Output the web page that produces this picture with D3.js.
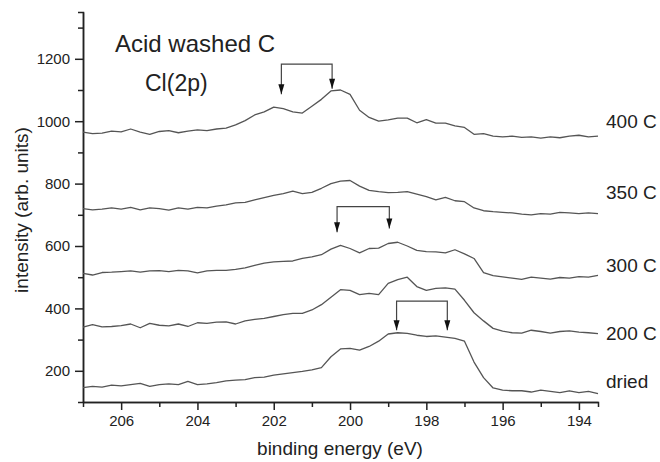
<!DOCTYPE html>
<html>
<head>
<meta charset="utf-8">
<script src="https://cdn.jsdelivr.net/npm/d3@7"></script>
<style>
  body { margin: 0; background: #fff; }
  svg { font-family: "Liberation Sans", Arial, sans-serif; display: block; }
  .axis path, .axis line { stroke: #222; stroke-width: 1.5; }
  .axis text { font-size: 15px; fill: #222; }
</style>
</head>
<body>
<div id="chart"></div>
<script>
// binding energy grid (eV), 207 -> 193.5 in 0.25 steps
var energy = d3.range(0, 55).map(function(i) { return 207 - 0.25 * i })

var dried = [146,150,148,154,152,156,160,150,156,158,156,166,156,158,162,168,170,172,178,180,
             186,190,194,198,203,210,245,270,272,266,278,295,318,322,320,314,310,312,308,304,
             295,228,178,145,138,136,136,132,138,134,130,136,130,134,127]
var c200 = [340,348,341,342,345,350,338,352,346,344,350,342,354,352,356,357,350,360,365,368,
            374,380,384,384,395,412,436,460,458,444,448,444,480,492,500,470,458,464,466,462,
            426,386,360,336,327,322,321,330,326,321,326,328,324,322,319]
var c300 = [512,507,515,516,518,520,516,520,521,518,522,520,514,520,522,522,525,530,538,545,
            549,551,552,560,565,572,590,602,592,578,592,593,608,612,600,586,582,581,578,588,
            575,560,515,505,501,497,493,500,497,494,499,497,502,500,506]
var c350 = [720,716,718,722,718,724,716,722,720,715,722,718,724,722,728,732,738,740,748,755,
            762,768,776,768,772,785,800,808,810,792,778,774,771,772,774,766,758,748,756,745,
            742,722,713,710,708,706,702,700,704,702,708,706,704,706,704]
var c400 = [965,960,962,968,966,975,965,958,967,970,963,968,972,970,975,978,988,1002,1020,1030,
            1045,1040,1030,1026,1048,1070,1097,1100,1086,1035,1012,1000,1004,1010,1010,995,1005,994,994,985,
            980,958,960,952,950,952,948,950,946,950,947,952,955,950,952]

var seriesNames = ["dried", "200 C", "300 C", "350 C", "400 C"]
var seriesValues = [dried, c200, c300, c350, c400]
// where each curve's name sits (intensity units)
var labelLevels = [144, 298, 517, 750, 978]

// arrow brackets: [left eV, right eV], bracket top, tip heights
var arrowEnergies = [[201.8, 200.47], [200.34, 198.97], [198.78, 197.45]]
var arrowTop = [1183, 726, 423]
var arrowTips = [[1086, 1104], [644, 656], [330, 330]]

var yMajor = [200, 400, 600, 800, 1000, 1200]
var yMinor = [300, 500, 700, 900, 1100, 1300]
var xMajor = [206, 204, 202, 200, 198, 196, 194]
var xMinor = [205, 203, 201, 199, 197, 195]

var W = 660, H = 462

var svg = d3.select("#chart").append("svg")
	.attr("width", W)
	.attr("height", H)

var x = d3.scaleLinear().domain([207, 193.5]).range([83, 598])
var y = d3.scaleLinear().domain([100, 1350]).range([402, 12])

// minor ticks first, then the major axes
svg.append("g")
	.attr("class", "axis")
	.attr("transform", "translate(0," + y(100) + ")")
	.call(d3.axisBottom(x).tickValues(xMinor).tickSize(5).tickFormat(""))
svg.append("g")
	.attr("class", "axis")
	.attr("transform", "translate(" + x(207) + ",0)")
	.call(d3.axisLeft(y).tickValues(yMinor).tickSize(5).tickFormat(""))

svg.append("g")
	.attr("class", "axis")
	.attr("transform", "translate(0," + y(100) + ")")
	.call(d3.axisBottom(x).tickValues(xMajor).tickSize(8).tickSizeOuter(0).tickPadding(5).tickFormat(d3.format("d")))
svg.append("g")
	.attr("class", "axis")
	.attr("transform", "translate(" + x(207) + ",0)")
	.call(d3.axisLeft(y).tickValues(yMajor).tickSize(8).tickSizeOuter(0).tickPadding(5).tickFormat(d3.format("d")))

svg.selectAll(".axis .domain").attr("stroke-width", 1.6)

svg.append("text")
	.attr("transform", "translate(28," + 210 + ") rotate(-90)")
	.attr("text-anchor", "middle")
	.attr("font-size", 19)
	.attr("fill", "#222")
	.text("intensity (arb. units)")

svg.append("text")
	.attr("x", 340)
	.attr("y", 455)
	.attr("text-anchor", "middle")
	.attr("font-size", 19)
	.attr("fill", "#222")
	.text("binding energy (eV)")

var line = d3.line()
	.x(function(d, i) { return x(energy[i]) })
	.y(function(d) { return y(d) })

svg.selectAll(".spectrum")
	.data(seriesValues)
	.enter().append("path")
	.attr("class", "spectrum")
	.attr("fill", "none")
	.attr("stroke", "#555")
	.attr("stroke-width", 1.3)
	.attr("stroke-linejoin", "round")
	.attr("d", line)

svg.selectAll(".curveLabel")
	.data(seriesNames)
	.enter().append("text")
	.attr("class", "curveLabel")
	.attr("x", 606)
	.attr("y", function(d, i) { return y(labelLevels[i]) })
	.attr("font-size", 19)
	.attr("fill", "#222")
	.text(function(d) { return d })

svg.append("text")
	.attr("x", 115)
	.attr("y", 52)
	.attr("font-size", 24)
	.attr("fill", "#222")
	.text("Acid washed C")

svg.append("text")
	.attr("x", 145)
	.attr("y", 91)
	.attr("font-size", 23)
	.attr("fill", "#222")
	.text("Cl(2p)")

// brackets with down arrows
arrowEnergies.forEach(function(pair, k) {
	var g = svg.append("g")
	var top = y(arrowTop[k])
	g.append("path")
		.attr("fill", "none")
		.attr("stroke", "#444")
		.attr("stroke-width", 1.2)
		.attr("d", "M" + x(pair[0]) + "," + y(arrowTips[k][0] ) + "V" + top + "H" + x(pair[1]) + "V" + y(arrowTips[k][1]))
	pair.forEach(function(e, j) {
		var tx = x(e), ty = y(arrowTips[k][j])
		g.append("path")
			.attr("fill", "#111")
			.attr("d", "M" + (tx - 3) + "," + (ty - 10) + "L" + (tx + 3) + "," + (ty - 10) + "L" + tx + "," + ty + "Z")
	})
})
</script>
</body>
</html>
